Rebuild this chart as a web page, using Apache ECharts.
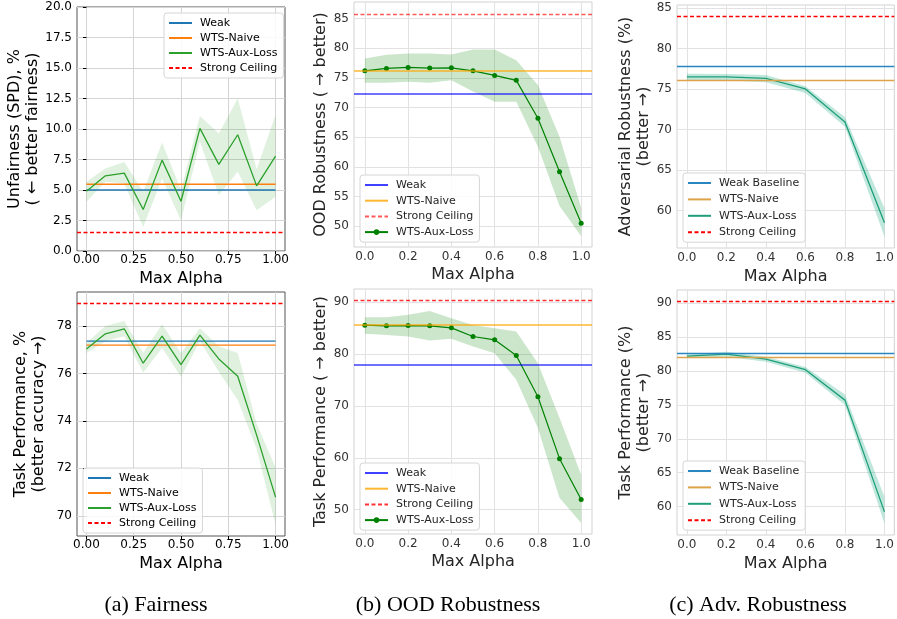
<!DOCTYPE html>
<html>
<head>
<meta charset="utf-8">
<script src="https://cdn.jsdelivr.net/npm/echarts@6/dist/echarts.min.js"></script>
<style>
  html, body { margin: 0; padding: 0; background: #ffffff; }
  #chart { width: 897px; height: 619px; }
</style>
</head>
<body>
<div id="chart"></div>
<script>
// ---------------- data ----------------
const alphaFine = [0, 0.1, 0.2, 0.3, 0.4, 0.5, 0.6, 0.7, 0.8, 0.9, 1.0];
const alphaCoarse = [0, 0.2, 0.4, 0.6, 0.8, 1.0];

const xTicksQuarter = [0, 0.25, 0.5, 0.75, 1.0];
const xTicksFifth = [0, 0.2, 0.4, 0.6, 0.8, 1.0];

// (a) Fairness — unfairness (SPD)
const spdBaselines = { weak: 5.0, naive: 5.47, ceiling: 1.52 };
const spdAux = [4.90, 6.16, 6.38, 3.40, 7.45, 4.08, 10.05, 7.10, 9.53, 5.34, 7.78];
const spdLow = [4.03, 5.67, 5.53, 1.97, 5.95, 2.50, 8.96, 4.58, 6.50, 3.34, 4.44];
const spdHigh = [5.67, 6.77, 7.30, 4.85, 8.90, 5.00, 11.07, 9.64, 12.50, 6.70, 11.15];
const spdTicks = [0, 2.5, 5, 7.5, 10, 12.5, 15, 17.5, 20];

// (a) Fairness — task performance
const fairAccBaselines = { weak: 77.36, naive: 77.19, ceiling: 78.95 };
const fairAccAux = [77.03, 77.67, 77.88, 76.43, 77.57, 76.37, 77.61, 76.61, 75.88, 73.40, 70.79];
const fairAccLow = [76.86, 77.36, 77.57, 76.04, 77.07, 75.86, 77.36, 76.07, 74.88, 72.82, 69.63];
const fairAccHigh = [77.28, 78.00, 78.21, 76.86, 78.07, 76.86, 77.90, 77.14, 76.86, 73.88, 72.04];
const fairAccTicks = [70, 72, 74, 76, 78];

// (b) OOD robustness
const oodBaselines = { weak: 72.35, naive: 76.2, ceiling: 85.78 };
const oodAux = [76.2, 76.6, 76.77, 76.66, 76.71, 76.2, 75.43, 74.59, 68.2, 59.19, 50.5];
const oodLow = [74.2, 74.2, 74.36, 74.2, 74.6, 72.7, 71.0, 71.0, 63.4, 53.4, 48.3];
const oodHigh = [78.28, 78.9, 79.12, 79.1, 78.95, 79.8, 79.8, 78.0, 73.8, 65.1, 53.1];
const oodTicks = [50, 55, 60, 65, 70, 75, 80, 85];

// (b) OOD — task performance
const oodAccBaselines = { weak: 78.0, naive: 85.57, ceiling: 90.32 };
const oodAccAux = [85.57, 85.44, 85.5, 85.44, 85.06, 83.39, 82.75, 79.73, 71.77, 59.83, 51.94];
const oodAccLow = [83.9, 83.7, 83.4, 82.6, 82.94, 81.46, 80.18, 75.04, 65.74, 52.26, 47.4];
const oodAccHigh = [87.1, 87.1, 87.56, 88.33, 86.9, 85.6, 85.0, 84.35, 78.25, 67.66, 56.75];
const oodAccTicks = [50, 60, 70, 80, 90];

// (c) Adversarial robustness
const advBaselines = { weak: 77.75, naive: 76.07, ceiling: 84.02 };
const advAux = [76.48, 76.48, 76.31, 75.0, 70.94, 58.52];
const advLow = [76.07, 76.07, 75.82, 74.5, 70.33, 56.8];
const advHigh = [76.89, 76.84, 76.72, 75.33, 71.56, 60.3];
const advTicks = [60, 65, 70, 75, 80, 85];

// (c) Adversarial — task performance
const advAccBaselines = { weak: 82.56, naive: 82.02, ceiling: 90.34 };
const advAccAux = [82.22, 82.51, 81.77, 80.2, 75.71, 59.21];
const advAccLow = [81.97, 82.12, 81.38, 79.75, 74.98, 57.5];
const advAccHigh = [82.46, 82.86, 82.12, 80.59, 76.55, 61.43];
const advAccTicks = [60, 65, 70, 75, 80, 85, 90];

const captions = ['(a) Fairness', '(b) OOD Robustness', '(c) Adv. Robustness'];

// ---------------- styling ----------------
const FONT = 'DejaVu Sans';
const THEMES = {
  classic: { label: '#000000', name: '#000000', border: '#555555', split: '#d4d4d4', ticks: true },
  soft:    { label: '#333333', name: '#262626', border: '#d2d2d2', split: '#e2e2e2', ticks: false }
};

const grids = [], xAxes = [], yAxes = [], series = [], legends = [];

function labelOf(name) { return name.split('|')[1]; }

// legend entry: plain line sample, or line with a marker dot
function entry(name, withMarker) {
  return withMarker ? { name: name } : { name: name, itemStyle: { opacity: 0 } };
}

function band(k, xs, lo, hi, fill) {
  series.push({
    type: 'custom', xAxisIndex: k, yAxisIndex: k, silent: true, z: 1,
    data: [[xs[0], lo[0]]],
    renderItem: function (params, api) {
      const pts = [];
      for (let i = 0; i < xs.length; i++) pts.push(api.coord([xs[i], hi[i]]));
      for (let i = xs.length - 1; i >= 0; i--) pts.push(api.coord([xs[i], lo[i]]));
      return { type: 'polygon', shape: { points: pts }, style: { fill: fill } };
    }
  });
}

function curve(k, name, xs, ys, style) {
  series.push({
    type: 'line', name: name, xAxisIndex: k, yAxisIndex: k, z: style.z || 3,
    data: xs.map((x, i) => [x, ys[i]]),
    symbol: style.symbol || 'none', symbolSize: style.symbolSize || 0, showSymbol: !!style.symbol,
    itemStyle: { color: style.color },
    lineStyle: { color: style.color, width: style.width || 1.3, type: style.type || 'solid' },
    emphasis: { disabled: true }, animation: false
  });
}

function hline(k, name, value, style) {
  const ls = { color: style.color, width: style.width || 1.3, type: style.type || 'solid' };
  series.push({
    type: 'line', name: name, xAxisIndex: k, yAxisIndex: k, z: style.z || 2,
    data: [], symbol: 'none', itemStyle: { color: style.color }, lineStyle: ls,
    markLine: {
      silent: true, symbol: 'none', animation: false, label: { show: false },
      lineStyle: ls, emphasis: { disabled: true },
      data: [{ yAxis: value }]
    },
    animation: false
  });
}

function panel(k, p) {
  const t = THEMES[p.theme];
  grids.push({
    left: p.rect[0], top: p.rect[1], width: p.rect[2], height: p.rect[3],
    show: true, borderColor: t.border, borderWidth: 1, backgroundColor: 'transparent'
  });
  xAxes.push({
    type: 'value', gridIndex: k, min: -0.05, max: 1.05,
    name: 'Max Alpha', nameLocation: 'middle', nameGap: p.xNameGap,
    nameTextStyle: { fontFamily: FONT, fontSize: 16, color: t.name },
    axisLine: { show: false },
    axisTick: { show: t.ticks, customValues: p.xTicks, length: 3.5, lineStyle: { color: '#000', width: 1 } },
    axisLabel: {
      customValues: p.xTicks, formatter: v => v.toFixed(p.xDigits),
      margin: p.xLabelMargin, fontFamily: FONT, fontSize: 12, color: t.label
    },
    splitLine: { show: true, lineStyle: { color: t.split, width: 1 } }
  });
  yAxes.push({
    type: 'value', gridIndex: k, min: p.ylim[0], max: p.ylim[1],
    name: p.yName, nameLocation: 'middle', nameGap: p.yNameGap,
    nameTextStyle: { fontFamily: FONT, fontSize: 16, color: t.name, lineHeight: 18 },
    axisLine: { show: false },
    axisTick: { show: t.ticks, customValues: p.yTicks, length: 3.5, lineStyle: { color: '#000', width: 1 } },
    axisLabel: {
      customValues: p.yTicks, formatter: v => v.toFixed(p.yDigits),
      margin: p.yLabelMargin, fontFamily: FONT, fontSize: 12, color: t.label
    },
    splitLine: { show: true, lineStyle: { color: t.split, width: 1 } }
  });
  legends.push({
    orient: 'vertical', left: p.legend[0], top: p.legend[1],
    itemWidth: 23, itemHeight: 7, itemGap: p.legend[2],
    padding: [4, 6, 4, 4],
    backgroundColor: 'rgba(255,255,255,0.85)', borderColor: '#d6d6d6', borderWidth: 1, borderRadius: 3,
    selectedMode: false,
    textStyle: { fontFamily: FONT, fontSize: 11, color: t.name, lineHeight: 12, padding: [0, 0, 0, 3] },
    formatter: labelOf,
    data: p.legendItems
  });
}

// ---- (a) Fairness, top: unfairness ----
panel(0, {
  theme: 'classic', rect: [77, 7, 208, 244], ylim: [0, 20],
  xTicks: xTicksQuarter, xDigits: 2, yTicks: spdTicks, yDigits: 1,
  yName: 'Unfairness (SPD), %\n( \u2190 better fairness)', yNameGap: 29, xNameGap: 20,
  xLabelMargin: 3, yLabelMargin: 5,
  legend: [164, 13, 3],
  legendItems: [entry('a1|Weak'), entry('a1|WTS-Naive'), entry('a1|WTS-Aux-Loss'), entry('a1|Strong Ceiling')]
});
band(0, alphaFine, spdLow, spdHigh, 'rgba(44,160,44,0.15)');
curve(0, 'a1|Weak', alphaFine, alphaFine.map(() => spdBaselines.weak), { color: '#1f77b4', z: 2 });
curve(0, 'a1|WTS-Naive', alphaFine, alphaFine.map(() => spdBaselines.naive), { color: '#ff7f0e', z: 2 });
curve(0, 'a1|WTS-Aux-Loss', alphaFine, spdAux, { color: '#2ca02c' });
hline(0, 'a1|Strong Ceiling', spdBaselines.ceiling, { color: '#ff0000', type: [4, 2.5] });

// ---- (a) Fairness, bottom: task performance ----
panel(1, {
  theme: 'classic', rect: [77, 292, 208, 244], ylim: [69.15, 79.43],
  xTicks: xTicksQuarter, xDigits: 2, yTicks: fairAccTicks, yDigits: 0,
  yName: 'Task Performance, %\n(better accuracy \u2192)', yNameGap: 29, xNameGap: 20,
  xLabelMargin: 3, yLabelMargin: 5,
  legend: [83, 468, 3],
  legendItems: [entry('a2|Weak'), entry('a2|WTS-Naive'), entry('a2|WTS-Aux-Loss'), entry('a2|Strong Ceiling')]
});
band(1, alphaFine, fairAccLow, fairAccHigh, 'rgba(44,160,44,0.15)');
curve(1, 'a2|Weak', alphaFine, alphaFine.map(() => fairAccBaselines.weak), { color: '#1f77b4', z: 2 });
curve(1, 'a2|WTS-Naive', alphaFine, alphaFine.map(() => fairAccBaselines.naive), { color: '#ff7f0e', z: 2 });
curve(1, 'a2|WTS-Aux-Loss', alphaFine, fairAccAux, { color: '#2ca02c' });
hline(1, 'a2|Strong Ceiling', fairAccBaselines.ceiling, { color: '#ff0000', type: [4, 2.5] });

// ---- (b) OOD, top: OOD robustness ----
panel(2, {
  theme: 'soft', rect: [354, 2, 238, 245], ylim: [46.5, 87.8],
  xTicks: xTicksFifth, xDigits: 1, yTicks: oodTicks, yDigits: 0,
  yName: 'OOD Robustness ( \u2192 better)', yNameGap: 20, xNameGap: 20,
  xLabelMargin: 4, yLabelMargin: 5,
  legend: [360, 175, 3.7],
  legendItems: [entry('b1|Weak'), entry('b1|WTS-Naive'), entry('b1|Strong Ceiling'), entry('b1|WTS-Aux-Loss', true)]
});
band(2, alphaFine, oodLow, oodHigh, 'rgba(0,128,0,0.2)');
hline(2, 'b1|Weak', oodBaselines.weak, { color: 'rgba(0,0,255,0.75)', width: 1.5 });
hline(2, 'b1|WTS-Naive', oodBaselines.naive, { color: 'rgba(255,165,0,0.8)', width: 1.5 });
hline(2, 'b1|Strong Ceiling', oodBaselines.ceiling, { color: 'rgba(255,0,0,0.65)', type: [4, 2.5] });
curve(2, 'b1|WTS-Aux-Loss', alphaFine, oodAux, { color: '#008000', symbol: 'circle', symbolSize: 5, width: 1.2, z: 4 });

// ---- (b) OOD, bottom: task performance ----
panel(3, {
  theme: 'soft', rect: [354, 289, 238, 245], ylim: [45.3, 92.55],
  xTicks: xTicksFifth, xDigits: 1, yTicks: oodAccTicks, yDigits: 0,
  yName: 'Task Performance ( \u2192 better)', yNameGap: 20, xNameGap: 20,
  xLabelMargin: 4, yLabelMargin: 5,
  legend: [360, 463, 3.7],
  legendItems: [entry('b2|Weak'), entry('b2|WTS-Naive'), entry('b2|Strong Ceiling'), entry('b2|WTS-Aux-Loss', true)]
});
band(3, alphaFine, oodAccLow, oodAccHigh, 'rgba(0,128,0,0.2)');
hline(3, 'b2|Weak', oodAccBaselines.weak, { color: 'rgba(0,0,255,0.75)', width: 1.5 });
hline(3, 'b2|WTS-Naive', oodAccBaselines.naive, { color: 'rgba(255,165,0,0.8)', width: 1.5 });
hline(3, 'b2|Strong Ceiling', oodAccBaselines.ceiling, { color: 'rgba(255,0,0,0.8)', type: [4, 2.5] });
curve(3, 'b2|WTS-Aux-Loss', alphaFine, oodAccAux, { color: '#008000', symbol: 'circle', symbolSize: 5, width: 1.2, z: 4 });

// ---- (c) Adversarial, top: adversarial robustness ----
panel(4, {
  theme: 'soft', rect: [677, 5, 222, 243], ylim: [55.4, 85.35],
  xTicks: xTicksFifth, xDigits: 1, yTicks: advTicks, yDigits: 0,
  yName: 'Adversarial Robustness (%)\n(better \u2192)', yNameGap: 18, xNameGap: 21,
  xLabelMargin: 4, yLabelMargin: 5,
  legend: [683, 173, 4.4],
  legendItems: [entry('c1|Weak Baseline'), entry('c1|WTS-Naive'), entry('c1|WTS-Aux-Loss'), entry('c1|Strong Ceiling')]
});
band(4, alphaCoarse, advLow, advHigh, 'rgba(2,158,115,0.25)');
hline(4, 'c1|Weak Baseline', advBaselines.weak, { color: '#2a86c0', width: 1.3 });
hline(4, 'c1|WTS-Naive', advBaselines.naive, { color: '#dea24a', width: 1.3 });
curve(4, 'c1|WTS-Aux-Loss', alphaCoarse, advAux, { color: '#1f9e7a', width: 1.3 });
hline(4, 'c1|Strong Ceiling', advBaselines.ceiling, { color: '#ff0000', type: [4, 2.5] });

// ---- (c) Adversarial, bottom: task performance ----
panel(5, {
  theme: 'soft', rect: [677, 290, 222, 245], ylim: [55.8, 91.97],
  xTicks: xTicksFifth, xDigits: 1, yTicks: advAccTicks, yDigits: 0,
  yName: 'Task Performance (%)\n(better \u2192)', yNameGap: 18, xNameGap: 21,
  xLabelMargin: 4, yLabelMargin: 5,
  legend: [683, 461, 4.4],
  legendItems: [entry('c2|Weak Baseline'), entry('c2|WTS-Naive'), entry('c2|WTS-Aux-Loss'), entry('c2|Strong Ceiling')]
});
band(5, alphaCoarse, advAccLow, advAccHigh, 'rgba(2,158,115,0.25)');
hline(5, 'c2|Weak Baseline', advAccBaselines.weak, { color: '#2a86c0', width: 1.3 });
hline(5, 'c2|WTS-Naive', advAccBaselines.naive, { color: '#dea24a', width: 1.3 });
curve(5, 'c2|WTS-Aux-Loss', alphaCoarse, advAccAux, { color: '#1f9e7a', width: 1.3 });
hline(5, 'c2|Strong Ceiling', advAccBaselines.ceiling, { color: '#ff0000', type: [4, 2.5] });

// ---- sub-figure captions ----
const captionX = [156, 448, 758];
const graphics = captions.map((c, i) => ({
  type: 'text', x: captionX[i], y: 605, silent: true,
  style: { text: c, font: '22px "Liberation Serif"', fill: '#000', align: 'center', verticalAlign: 'middle' }
}));

const chart = echarts.init(document.getElementById('chart'), null, { renderer: 'canvas' });
chart.setOption({
  animation: false,
  backgroundColor: '#ffffff',
  grid: grids, xAxis: xAxes, yAxis: yAxes,
  legend: legends, series: series,
  graphic: graphics
});
</script>
</body>
</html>
